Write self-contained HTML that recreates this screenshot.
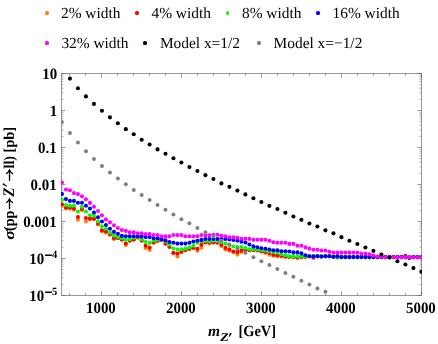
<!DOCTYPE html>
<html><head><meta charset="utf-8"><title>plot</title>
<style>
html,body{margin:0;padding:0;background:#fff;}
body{width:438px;height:344px;position:relative;overflow:hidden;font-family:"Liberation Serif",serif;color:#000;text-rendering:geometricPrecision;}
#wrap{position:absolute;left:0;top:0;width:438px;height:344px;will-change:transform;}
.lg{position:absolute;font-size:15.4px;line-height:18px;white-space:nowrap;}
.dot{position:absolute;width:3.6px;height:3.6px;border-radius:50%;}
</style></head><body><div id="wrap">
<svg width="438" height="344" viewBox="0 0 438 344" style="position:absolute;left:0;top:0">
<defs><clipPath id="cp"><rect x="61.0" y="73.0" width="361.0" height="223.0"/></clipPath></defs>
<rect x="61.5" y="73.5" width="360.0" height="222.0" fill="none" stroke="#5a5a5a" stroke-width="0.62"/>
<line x1="69.50" y1="295.50" x2="69.50" y2="293.30" stroke="#5a5a5a" stroke-width="0.62"/><line x1="69.50" y1="73.50" x2="69.50" y2="75.70" stroke="#5a5a5a" stroke-width="0.62"/><line x1="85.50" y1="295.50" x2="85.50" y2="293.30" stroke="#5a5a5a" stroke-width="0.62"/><line x1="85.50" y1="73.50" x2="85.50" y2="75.70" stroke="#5a5a5a" stroke-width="0.62"/><line x1="101.50" y1="295.50" x2="101.50" y2="291.50" stroke="#5a5a5a" stroke-width="0.62"/><line x1="101.50" y1="73.50" x2="101.50" y2="77.50" stroke="#5a5a5a" stroke-width="0.62"/><line x1="117.50" y1="295.50" x2="117.50" y2="293.30" stroke="#5a5a5a" stroke-width="0.62"/><line x1="117.50" y1="73.50" x2="117.50" y2="75.70" stroke="#5a5a5a" stroke-width="0.62"/><line x1="133.50" y1="295.50" x2="133.50" y2="293.30" stroke="#5a5a5a" stroke-width="0.62"/><line x1="133.50" y1="73.50" x2="133.50" y2="75.70" stroke="#5a5a5a" stroke-width="0.62"/><line x1="149.50" y1="295.50" x2="149.50" y2="293.30" stroke="#5a5a5a" stroke-width="0.62"/><line x1="149.50" y1="73.50" x2="149.50" y2="75.70" stroke="#5a5a5a" stroke-width="0.62"/><line x1="165.50" y1="295.50" x2="165.50" y2="293.30" stroke="#5a5a5a" stroke-width="0.62"/><line x1="165.50" y1="73.50" x2="165.50" y2="75.70" stroke="#5a5a5a" stroke-width="0.62"/><line x1="181.50" y1="295.50" x2="181.50" y2="291.50" stroke="#5a5a5a" stroke-width="0.62"/><line x1="181.50" y1="73.50" x2="181.50" y2="77.50" stroke="#5a5a5a" stroke-width="0.62"/><line x1="197.50" y1="295.50" x2="197.50" y2="293.30" stroke="#5a5a5a" stroke-width="0.62"/><line x1="197.50" y1="73.50" x2="197.50" y2="75.70" stroke="#5a5a5a" stroke-width="0.62"/><line x1="213.50" y1="295.50" x2="213.50" y2="293.30" stroke="#5a5a5a" stroke-width="0.62"/><line x1="213.50" y1="73.50" x2="213.50" y2="75.70" stroke="#5a5a5a" stroke-width="0.62"/><line x1="229.50" y1="295.50" x2="229.50" y2="293.30" stroke="#5a5a5a" stroke-width="0.62"/><line x1="229.50" y1="73.50" x2="229.50" y2="75.70" stroke="#5a5a5a" stroke-width="0.62"/><line x1="245.50" y1="295.50" x2="245.50" y2="293.30" stroke="#5a5a5a" stroke-width="0.62"/><line x1="245.50" y1="73.50" x2="245.50" y2="75.70" stroke="#5a5a5a" stroke-width="0.62"/><line x1="261.50" y1="295.50" x2="261.50" y2="291.50" stroke="#5a5a5a" stroke-width="0.62"/><line x1="261.50" y1="73.50" x2="261.50" y2="77.50" stroke="#5a5a5a" stroke-width="0.62"/><line x1="277.50" y1="295.50" x2="277.50" y2="293.30" stroke="#5a5a5a" stroke-width="0.62"/><line x1="277.50" y1="73.50" x2="277.50" y2="75.70" stroke="#5a5a5a" stroke-width="0.62"/><line x1="293.50" y1="295.50" x2="293.50" y2="293.30" stroke="#5a5a5a" stroke-width="0.62"/><line x1="293.50" y1="73.50" x2="293.50" y2="75.70" stroke="#5a5a5a" stroke-width="0.62"/><line x1="309.50" y1="295.50" x2="309.50" y2="293.30" stroke="#5a5a5a" stroke-width="0.62"/><line x1="309.50" y1="73.50" x2="309.50" y2="75.70" stroke="#5a5a5a" stroke-width="0.62"/><line x1="325.50" y1="295.50" x2="325.50" y2="293.30" stroke="#5a5a5a" stroke-width="0.62"/><line x1="325.50" y1="73.50" x2="325.50" y2="75.70" stroke="#5a5a5a" stroke-width="0.62"/><line x1="341.50" y1="295.50" x2="341.50" y2="291.50" stroke="#5a5a5a" stroke-width="0.62"/><line x1="341.50" y1="73.50" x2="341.50" y2="77.50" stroke="#5a5a5a" stroke-width="0.62"/><line x1="357.50" y1="295.50" x2="357.50" y2="293.30" stroke="#5a5a5a" stroke-width="0.62"/><line x1="357.50" y1="73.50" x2="357.50" y2="75.70" stroke="#5a5a5a" stroke-width="0.62"/><line x1="373.50" y1="295.50" x2="373.50" y2="293.30" stroke="#5a5a5a" stroke-width="0.62"/><line x1="373.50" y1="73.50" x2="373.50" y2="75.70" stroke="#5a5a5a" stroke-width="0.62"/><line x1="389.50" y1="295.50" x2="389.50" y2="293.30" stroke="#5a5a5a" stroke-width="0.62"/><line x1="389.50" y1="73.50" x2="389.50" y2="75.70" stroke="#5a5a5a" stroke-width="0.62"/><line x1="405.50" y1="295.50" x2="405.50" y2="293.30" stroke="#5a5a5a" stroke-width="0.62"/><line x1="405.50" y1="73.50" x2="405.50" y2="75.70" stroke="#5a5a5a" stroke-width="0.62"/><line x1="421.50" y1="295.50" x2="421.50" y2="291.50" stroke="#5a5a5a" stroke-width="0.62"/><line x1="421.50" y1="73.50" x2="421.50" y2="77.50" stroke="#5a5a5a" stroke-width="0.62"/><line x1="61.50" y1="73.50" x2="65.50" y2="73.50" stroke="#5a5a5a" stroke-width="0.62"/><line x1="421.50" y1="73.50" x2="417.50" y2="73.50" stroke="#5a5a5a" stroke-width="0.62"/><line x1="61.50" y1="99.36" x2="63.40" y2="99.36" stroke="#5a5a5a" stroke-width="0.5"/><line x1="421.50" y1="99.36" x2="419.60" y2="99.36" stroke="#5a5a5a" stroke-width="0.5"/><line x1="61.50" y1="92.85" x2="63.40" y2="92.85" stroke="#5a5a5a" stroke-width="0.5"/><line x1="421.50" y1="92.85" x2="419.60" y2="92.85" stroke="#5a5a5a" stroke-width="0.5"/><line x1="61.50" y1="88.22" x2="63.40" y2="88.22" stroke="#5a5a5a" stroke-width="0.5"/><line x1="421.50" y1="88.22" x2="419.60" y2="88.22" stroke="#5a5a5a" stroke-width="0.5"/><line x1="61.50" y1="84.64" x2="63.40" y2="84.64" stroke="#5a5a5a" stroke-width="0.5"/><line x1="421.50" y1="84.64" x2="419.60" y2="84.64" stroke="#5a5a5a" stroke-width="0.5"/><line x1="61.50" y1="81.71" x2="63.40" y2="81.71" stroke="#5a5a5a" stroke-width="0.5"/><line x1="421.50" y1="81.71" x2="419.60" y2="81.71" stroke="#5a5a5a" stroke-width="0.5"/><line x1="61.50" y1="79.23" x2="63.40" y2="79.23" stroke="#5a5a5a" stroke-width="0.5"/><line x1="421.50" y1="79.23" x2="419.60" y2="79.23" stroke="#5a5a5a" stroke-width="0.5"/><line x1="61.50" y1="77.09" x2="63.40" y2="77.09" stroke="#5a5a5a" stroke-width="0.5"/><line x1="421.50" y1="77.09" x2="419.60" y2="77.09" stroke="#5a5a5a" stroke-width="0.5"/><line x1="61.50" y1="75.19" x2="63.40" y2="75.19" stroke="#5a5a5a" stroke-width="0.5"/><line x1="421.50" y1="75.19" x2="419.60" y2="75.19" stroke="#5a5a5a" stroke-width="0.5"/><line x1="61.50" y1="110.50" x2="65.50" y2="110.50" stroke="#5a5a5a" stroke-width="0.62"/><line x1="421.50" y1="110.50" x2="417.50" y2="110.50" stroke="#5a5a5a" stroke-width="0.62"/><line x1="61.50" y1="136.36" x2="63.40" y2="136.36" stroke="#5a5a5a" stroke-width="0.5"/><line x1="421.50" y1="136.36" x2="419.60" y2="136.36" stroke="#5a5a5a" stroke-width="0.5"/><line x1="61.50" y1="129.85" x2="63.40" y2="129.85" stroke="#5a5a5a" stroke-width="0.5"/><line x1="421.50" y1="129.85" x2="419.60" y2="129.85" stroke="#5a5a5a" stroke-width="0.5"/><line x1="61.50" y1="125.22" x2="63.40" y2="125.22" stroke="#5a5a5a" stroke-width="0.5"/><line x1="421.50" y1="125.22" x2="419.60" y2="125.22" stroke="#5a5a5a" stroke-width="0.5"/><line x1="61.50" y1="121.64" x2="63.40" y2="121.64" stroke="#5a5a5a" stroke-width="0.5"/><line x1="421.50" y1="121.64" x2="419.60" y2="121.64" stroke="#5a5a5a" stroke-width="0.5"/><line x1="61.50" y1="118.71" x2="63.40" y2="118.71" stroke="#5a5a5a" stroke-width="0.5"/><line x1="421.50" y1="118.71" x2="419.60" y2="118.71" stroke="#5a5a5a" stroke-width="0.5"/><line x1="61.50" y1="116.23" x2="63.40" y2="116.23" stroke="#5a5a5a" stroke-width="0.5"/><line x1="421.50" y1="116.23" x2="419.60" y2="116.23" stroke="#5a5a5a" stroke-width="0.5"/><line x1="61.50" y1="114.09" x2="63.40" y2="114.09" stroke="#5a5a5a" stroke-width="0.5"/><line x1="421.50" y1="114.09" x2="419.60" y2="114.09" stroke="#5a5a5a" stroke-width="0.5"/><line x1="61.50" y1="112.19" x2="63.40" y2="112.19" stroke="#5a5a5a" stroke-width="0.5"/><line x1="421.50" y1="112.19" x2="419.60" y2="112.19" stroke="#5a5a5a" stroke-width="0.5"/><line x1="61.50" y1="147.50" x2="65.50" y2="147.50" stroke="#5a5a5a" stroke-width="0.62"/><line x1="421.50" y1="147.50" x2="417.50" y2="147.50" stroke="#5a5a5a" stroke-width="0.62"/><line x1="61.50" y1="173.36" x2="63.40" y2="173.36" stroke="#5a5a5a" stroke-width="0.5"/><line x1="421.50" y1="173.36" x2="419.60" y2="173.36" stroke="#5a5a5a" stroke-width="0.5"/><line x1="61.50" y1="166.85" x2="63.40" y2="166.85" stroke="#5a5a5a" stroke-width="0.5"/><line x1="421.50" y1="166.85" x2="419.60" y2="166.85" stroke="#5a5a5a" stroke-width="0.5"/><line x1="61.50" y1="162.22" x2="63.40" y2="162.22" stroke="#5a5a5a" stroke-width="0.5"/><line x1="421.50" y1="162.22" x2="419.60" y2="162.22" stroke="#5a5a5a" stroke-width="0.5"/><line x1="61.50" y1="158.64" x2="63.40" y2="158.64" stroke="#5a5a5a" stroke-width="0.5"/><line x1="421.50" y1="158.64" x2="419.60" y2="158.64" stroke="#5a5a5a" stroke-width="0.5"/><line x1="61.50" y1="155.71" x2="63.40" y2="155.71" stroke="#5a5a5a" stroke-width="0.5"/><line x1="421.50" y1="155.71" x2="419.60" y2="155.71" stroke="#5a5a5a" stroke-width="0.5"/><line x1="61.50" y1="153.23" x2="63.40" y2="153.23" stroke="#5a5a5a" stroke-width="0.5"/><line x1="421.50" y1="153.23" x2="419.60" y2="153.23" stroke="#5a5a5a" stroke-width="0.5"/><line x1="61.50" y1="151.09" x2="63.40" y2="151.09" stroke="#5a5a5a" stroke-width="0.5"/><line x1="421.50" y1="151.09" x2="419.60" y2="151.09" stroke="#5a5a5a" stroke-width="0.5"/><line x1="61.50" y1="149.19" x2="63.40" y2="149.19" stroke="#5a5a5a" stroke-width="0.5"/><line x1="421.50" y1="149.19" x2="419.60" y2="149.19" stroke="#5a5a5a" stroke-width="0.5"/><line x1="61.50" y1="184.50" x2="65.50" y2="184.50" stroke="#5a5a5a" stroke-width="0.62"/><line x1="421.50" y1="184.50" x2="417.50" y2="184.50" stroke="#5a5a5a" stroke-width="0.62"/><line x1="61.50" y1="210.36" x2="63.40" y2="210.36" stroke="#5a5a5a" stroke-width="0.5"/><line x1="421.50" y1="210.36" x2="419.60" y2="210.36" stroke="#5a5a5a" stroke-width="0.5"/><line x1="61.50" y1="203.85" x2="63.40" y2="203.85" stroke="#5a5a5a" stroke-width="0.5"/><line x1="421.50" y1="203.85" x2="419.60" y2="203.85" stroke="#5a5a5a" stroke-width="0.5"/><line x1="61.50" y1="199.22" x2="63.40" y2="199.22" stroke="#5a5a5a" stroke-width="0.5"/><line x1="421.50" y1="199.22" x2="419.60" y2="199.22" stroke="#5a5a5a" stroke-width="0.5"/><line x1="61.50" y1="195.64" x2="63.40" y2="195.64" stroke="#5a5a5a" stroke-width="0.5"/><line x1="421.50" y1="195.64" x2="419.60" y2="195.64" stroke="#5a5a5a" stroke-width="0.5"/><line x1="61.50" y1="192.71" x2="63.40" y2="192.71" stroke="#5a5a5a" stroke-width="0.5"/><line x1="421.50" y1="192.71" x2="419.60" y2="192.71" stroke="#5a5a5a" stroke-width="0.5"/><line x1="61.50" y1="190.23" x2="63.40" y2="190.23" stroke="#5a5a5a" stroke-width="0.5"/><line x1="421.50" y1="190.23" x2="419.60" y2="190.23" stroke="#5a5a5a" stroke-width="0.5"/><line x1="61.50" y1="188.09" x2="63.40" y2="188.09" stroke="#5a5a5a" stroke-width="0.5"/><line x1="421.50" y1="188.09" x2="419.60" y2="188.09" stroke="#5a5a5a" stroke-width="0.5"/><line x1="61.50" y1="186.19" x2="63.40" y2="186.19" stroke="#5a5a5a" stroke-width="0.5"/><line x1="421.50" y1="186.19" x2="419.60" y2="186.19" stroke="#5a5a5a" stroke-width="0.5"/><line x1="61.50" y1="221.50" x2="65.50" y2="221.50" stroke="#5a5a5a" stroke-width="0.62"/><line x1="421.50" y1="221.50" x2="417.50" y2="221.50" stroke="#5a5a5a" stroke-width="0.62"/><line x1="61.50" y1="247.36" x2="63.40" y2="247.36" stroke="#5a5a5a" stroke-width="0.5"/><line x1="421.50" y1="247.36" x2="419.60" y2="247.36" stroke="#5a5a5a" stroke-width="0.5"/><line x1="61.50" y1="240.85" x2="63.40" y2="240.85" stroke="#5a5a5a" stroke-width="0.5"/><line x1="421.50" y1="240.85" x2="419.60" y2="240.85" stroke="#5a5a5a" stroke-width="0.5"/><line x1="61.50" y1="236.22" x2="63.40" y2="236.22" stroke="#5a5a5a" stroke-width="0.5"/><line x1="421.50" y1="236.22" x2="419.60" y2="236.22" stroke="#5a5a5a" stroke-width="0.5"/><line x1="61.50" y1="232.64" x2="63.40" y2="232.64" stroke="#5a5a5a" stroke-width="0.5"/><line x1="421.50" y1="232.64" x2="419.60" y2="232.64" stroke="#5a5a5a" stroke-width="0.5"/><line x1="61.50" y1="229.71" x2="63.40" y2="229.71" stroke="#5a5a5a" stroke-width="0.5"/><line x1="421.50" y1="229.71" x2="419.60" y2="229.71" stroke="#5a5a5a" stroke-width="0.5"/><line x1="61.50" y1="227.23" x2="63.40" y2="227.23" stroke="#5a5a5a" stroke-width="0.5"/><line x1="421.50" y1="227.23" x2="419.60" y2="227.23" stroke="#5a5a5a" stroke-width="0.5"/><line x1="61.50" y1="225.09" x2="63.40" y2="225.09" stroke="#5a5a5a" stroke-width="0.5"/><line x1="421.50" y1="225.09" x2="419.60" y2="225.09" stroke="#5a5a5a" stroke-width="0.5"/><line x1="61.50" y1="223.19" x2="63.40" y2="223.19" stroke="#5a5a5a" stroke-width="0.5"/><line x1="421.50" y1="223.19" x2="419.60" y2="223.19" stroke="#5a5a5a" stroke-width="0.5"/><line x1="61.50" y1="258.50" x2="65.50" y2="258.50" stroke="#5a5a5a" stroke-width="0.62"/><line x1="421.50" y1="258.50" x2="417.50" y2="258.50" stroke="#5a5a5a" stroke-width="0.62"/><line x1="61.50" y1="284.36" x2="63.40" y2="284.36" stroke="#5a5a5a" stroke-width="0.5"/><line x1="421.50" y1="284.36" x2="419.60" y2="284.36" stroke="#5a5a5a" stroke-width="0.5"/><line x1="61.50" y1="277.85" x2="63.40" y2="277.85" stroke="#5a5a5a" stroke-width="0.5"/><line x1="421.50" y1="277.85" x2="419.60" y2="277.85" stroke="#5a5a5a" stroke-width="0.5"/><line x1="61.50" y1="273.22" x2="63.40" y2="273.22" stroke="#5a5a5a" stroke-width="0.5"/><line x1="421.50" y1="273.22" x2="419.60" y2="273.22" stroke="#5a5a5a" stroke-width="0.5"/><line x1="61.50" y1="269.64" x2="63.40" y2="269.64" stroke="#5a5a5a" stroke-width="0.5"/><line x1="421.50" y1="269.64" x2="419.60" y2="269.64" stroke="#5a5a5a" stroke-width="0.5"/><line x1="61.50" y1="266.71" x2="63.40" y2="266.71" stroke="#5a5a5a" stroke-width="0.5"/><line x1="421.50" y1="266.71" x2="419.60" y2="266.71" stroke="#5a5a5a" stroke-width="0.5"/><line x1="61.50" y1="264.23" x2="63.40" y2="264.23" stroke="#5a5a5a" stroke-width="0.5"/><line x1="421.50" y1="264.23" x2="419.60" y2="264.23" stroke="#5a5a5a" stroke-width="0.5"/><line x1="61.50" y1="262.09" x2="63.40" y2="262.09" stroke="#5a5a5a" stroke-width="0.5"/><line x1="421.50" y1="262.09" x2="419.60" y2="262.09" stroke="#5a5a5a" stroke-width="0.5"/><line x1="61.50" y1="260.19" x2="63.40" y2="260.19" stroke="#5a5a5a" stroke-width="0.5"/><line x1="421.50" y1="260.19" x2="419.60" y2="260.19" stroke="#5a5a5a" stroke-width="0.5"/><line x1="61.50" y1="295.50" x2="65.50" y2="295.50" stroke="#5a5a5a" stroke-width="0.62"/><line x1="421.50" y1="295.50" x2="417.50" y2="295.50" stroke="#5a5a5a" stroke-width="0.62"/>
<g clip-path="url(#cp)"><g fill="#ff8000"><circle cx="61.95" cy="205.90" r="2.05"/><circle cx="65.95" cy="208.50" r="2.05"/><circle cx="69.95" cy="208.50" r="2.05"/><circle cx="73.95" cy="209.80" r="2.05"/><circle cx="77.95" cy="219.80" r="2.05"/><circle cx="81.95" cy="210.20" r="2.05"/><circle cx="85.95" cy="221.50" r="2.05"/><circle cx="89.95" cy="219.20" r="2.05"/><circle cx="93.95" cy="219.20" r="2.05"/><circle cx="97.95" cy="224.40" r="2.05"/><circle cx="101.95" cy="231.40" r="2.05"/><circle cx="105.95" cy="232.60" r="2.05"/><circle cx="109.95" cy="234.80" r="2.05"/><circle cx="113.92" cy="239.10" r="2.05"/><circle cx="117.89" cy="238.30" r="2.05"/><circle cx="121.85" cy="239.80" r="2.05"/><circle cx="125.82" cy="245.00" r="2.05"/><circle cx="129.78" cy="240.80" r="2.05"/><circle cx="133.75" cy="239.70" r="2.05"/><circle cx="137.72" cy="237.70" r="2.05"/><circle cx="141.68" cy="240.80" r="2.05"/><circle cx="145.65" cy="248.00" r="2.05"/><circle cx="149.62" cy="249.90" r="2.05"/><circle cx="153.58" cy="242.90" r="2.05"/><circle cx="157.55" cy="241.20" r="2.05"/><circle cx="161.51" cy="240.30" r="2.05"/><circle cx="165.48" cy="244.10" r="2.05"/><circle cx="169.45" cy="247.00" r="2.05"/><circle cx="173.41" cy="253.40" r="2.05"/><circle cx="177.40" cy="256.40" r="2.05"/><circle cx="181.40" cy="252.30" r="2.05"/><circle cx="185.40" cy="250.30" r="2.05"/><circle cx="189.40" cy="249.20" r="2.05"/><circle cx="193.40" cy="248.00" r="2.05"/><circle cx="197.40" cy="250.80" r="2.05"/><circle cx="201.40" cy="247.70" r="2.05"/><circle cx="205.40" cy="242.80" r="2.05"/><circle cx="209.40" cy="243.40" r="2.05"/><circle cx="213.40" cy="242.70" r="2.05"/><circle cx="217.40" cy="242.70" r="2.05"/><circle cx="221.40" cy="245.90" r="2.05"/><circle cx="225.40" cy="249.40" r="2.05"/><circle cx="229.40" cy="250.80" r="2.05"/><circle cx="233.40" cy="252.00" r="2.05"/><circle cx="237.40" cy="254.60" r="2.05"/><circle cx="241.40" cy="252.00" r="2.05"/><circle cx="245.40" cy="250.00" r="2.05"/><circle cx="249.40" cy="250.30" r="2.05"/><circle cx="253.40" cy="250.30" r="2.05"/><circle cx="257.40" cy="250.50" r="2.05"/><circle cx="261.40" cy="251.50" r="2.05"/><circle cx="265.40" cy="252.70" r="2.05"/><circle cx="269.40" cy="254.70" r="2.05"/><circle cx="273.40" cy="255.80" r="2.05"/><circle cx="277.40" cy="256.20" r="2.05"/><circle cx="281.40" cy="256.50" r="2.05"/><circle cx="285.40" cy="257.00" r="2.05"/><circle cx="289.40" cy="257.20" r="2.05"/><circle cx="293.40" cy="257.20" r="2.05"/><circle cx="297.40" cy="257.20" r="2.05"/><circle cx="301.40" cy="257.20" r="2.05"/><circle cx="305.40" cy="257.20" r="2.05"/><circle cx="309.40" cy="256.20" r="2.05"/><circle cx="313.40" cy="256.20" r="2.05"/><circle cx="317.40" cy="256.20" r="2.05"/><circle cx="321.40" cy="256.50" r="2.05"/><circle cx="325.40" cy="256.20" r="2.05"/><circle cx="329.40" cy="256.20" r="2.05"/><circle cx="333.40" cy="256.70" r="2.05"/><circle cx="337.40" cy="256.40" r="2.05"/><circle cx="341.40" cy="257.10" r="2.05"/><circle cx="345.40" cy="257.10" r="2.05"/><circle cx="349.40" cy="257.10" r="2.05"/><circle cx="353.40" cy="257.10" r="2.05"/><circle cx="357.40" cy="257.10" r="2.05"/><circle cx="361.40" cy="257.10" r="2.05"/><circle cx="365.40" cy="257.10" r="2.05"/><circle cx="369.40" cy="257.10" r="2.05"/><circle cx="373.40" cy="257.10" r="2.05"/><circle cx="377.40" cy="257.10" r="2.05"/><circle cx="381.40" cy="257.10" r="2.05"/><circle cx="385.40" cy="257.10" r="2.05"/><circle cx="389.40" cy="257.10" r="2.05"/><circle cx="393.40" cy="257.10" r="2.05"/><circle cx="397.40" cy="257.10" r="2.05"/><circle cx="401.40" cy="257.10" r="2.05"/><circle cx="405.40" cy="257.10" r="2.05"/><circle cx="409.40" cy="257.10" r="2.05"/><circle cx="413.40" cy="257.10" r="2.05"/><circle cx="417.40" cy="257.10" r="2.05"/><circle cx="421.40" cy="257.10" r="2.05"/></g><g fill="#ff0000"><circle cx="61.95" cy="204.20" r="2.05"/><circle cx="65.95" cy="207.50" r="2.05"/><circle cx="69.95" cy="207.60" r="2.05"/><circle cx="73.95" cy="208.50" r="2.05"/><circle cx="77.95" cy="217.00" r="2.05"/><circle cx="81.95" cy="208.80" r="2.05"/><circle cx="85.95" cy="218.00" r="2.05"/><circle cx="89.95" cy="218.40" r="2.05"/><circle cx="93.95" cy="218.60" r="2.05"/><circle cx="97.95" cy="223.50" r="2.05"/><circle cx="101.95" cy="230.20" r="2.05"/><circle cx="105.95" cy="231.40" r="2.05"/><circle cx="109.95" cy="234.20" r="2.05"/><circle cx="113.92" cy="238.00" r="2.05"/><circle cx="117.89" cy="237.90" r="2.05"/><circle cx="121.85" cy="239.40" r="2.05"/><circle cx="125.82" cy="243.50" r="2.05"/><circle cx="129.78" cy="240.60" r="2.05"/><circle cx="133.75" cy="239.40" r="2.05"/><circle cx="137.72" cy="237.20" r="2.05"/><circle cx="141.68" cy="240.40" r="2.05"/><circle cx="145.65" cy="245.80" r="2.05"/><circle cx="149.62" cy="247.60" r="2.05"/><circle cx="153.58" cy="242.30" r="2.05"/><circle cx="157.55" cy="240.80" r="2.05"/><circle cx="161.51" cy="240.00" r="2.05"/><circle cx="165.48" cy="243.50" r="2.05"/><circle cx="169.45" cy="246.70" r="2.05"/><circle cx="173.41" cy="252.80" r="2.05"/><circle cx="177.40" cy="253.50" r="2.05"/><circle cx="181.40" cy="251.70" r="2.05"/><circle cx="185.40" cy="250.00" r="2.05"/><circle cx="189.40" cy="248.60" r="2.05"/><circle cx="193.40" cy="247.70" r="2.05"/><circle cx="197.40" cy="248.80" r="2.05"/><circle cx="201.40" cy="244.80" r="2.05"/><circle cx="205.40" cy="242.30" r="2.05"/><circle cx="209.40" cy="242.40" r="2.05"/><circle cx="213.40" cy="242.20" r="2.05"/><circle cx="217.40" cy="242.40" r="2.05"/><circle cx="221.40" cy="244.80" r="2.05"/><circle cx="225.40" cy="247.70" r="2.05"/><circle cx="229.40" cy="249.40" r="2.05"/><circle cx="233.40" cy="251.50" r="2.05"/><circle cx="237.40" cy="251.90" r="2.05"/><circle cx="241.40" cy="250.60" r="2.05"/><circle cx="245.40" cy="249.50" r="2.05"/><circle cx="249.40" cy="250.00" r="2.05"/><circle cx="253.40" cy="250.00" r="2.05"/><circle cx="257.40" cy="250.20" r="2.05"/><circle cx="261.40" cy="251.30" r="2.05"/><circle cx="265.40" cy="252.20" r="2.05"/><circle cx="269.40" cy="253.00" r="2.05"/><circle cx="273.40" cy="254.70" r="2.05"/><circle cx="277.40" cy="255.30" r="2.05"/><circle cx="281.40" cy="255.70" r="2.05"/><circle cx="285.40" cy="256.50" r="2.05"/><circle cx="289.40" cy="256.80" r="2.05"/><circle cx="293.40" cy="256.80" r="2.05"/><circle cx="297.40" cy="257.70" r="2.05"/><circle cx="301.40" cy="257.00" r="2.05"/><circle cx="305.40" cy="257.10" r="2.05"/><circle cx="309.40" cy="256.20" r="2.05"/><circle cx="313.40" cy="257.80" r="2.05"/><circle cx="317.40" cy="256.20" r="2.05"/><circle cx="321.40" cy="256.50" r="2.05"/><circle cx="325.40" cy="256.20" r="2.05"/><circle cx="329.40" cy="256.20" r="2.05"/><circle cx="333.40" cy="256.70" r="2.05"/><circle cx="337.40" cy="256.40" r="2.05"/><circle cx="341.40" cy="257.10" r="2.05"/><circle cx="345.40" cy="257.10" r="2.05"/><circle cx="349.40" cy="257.10" r="2.05"/><circle cx="353.40" cy="257.10" r="2.05"/><circle cx="357.40" cy="257.10" r="2.05"/><circle cx="361.40" cy="257.10" r="2.05"/><circle cx="365.40" cy="257.10" r="2.05"/><circle cx="369.40" cy="257.10" r="2.05"/><circle cx="373.40" cy="257.10" r="2.05"/><circle cx="377.40" cy="257.10" r="2.05"/><circle cx="381.40" cy="257.10" r="2.05"/><circle cx="385.40" cy="257.10" r="2.05"/><circle cx="389.40" cy="257.10" r="2.05"/><circle cx="393.40" cy="257.10" r="2.05"/><circle cx="397.40" cy="257.10" r="2.05"/><circle cx="401.40" cy="257.10" r="2.05"/><circle cx="405.40" cy="255.80" r="2.05"/><circle cx="409.40" cy="257.10" r="2.05"/><circle cx="413.40" cy="257.10" r="2.05"/><circle cx="417.40" cy="257.10" r="2.05"/><circle cx="421.40" cy="257.10" r="2.05"/></g><g fill="#00ff00"><circle cx="61.95" cy="199.70" r="2.05"/><circle cx="65.95" cy="205.00" r="2.05"/><circle cx="69.95" cy="205.80" r="2.05"/><circle cx="73.95" cy="205.50" r="2.05"/><circle cx="77.95" cy="211.60" r="2.05"/><circle cx="81.95" cy="206.70" r="2.05"/><circle cx="85.95" cy="211.50" r="2.05"/><circle cx="89.95" cy="215.20" r="2.05"/><circle cx="93.95" cy="215.80" r="2.05"/><circle cx="97.95" cy="221.50" r="2.05"/><circle cx="101.95" cy="226.20" r="2.05"/><circle cx="105.95" cy="228.80" r="2.05"/><circle cx="109.95" cy="232.80" r="2.05"/><circle cx="113.92" cy="235.40" r="2.05"/><circle cx="117.89" cy="236.90" r="2.05"/><circle cx="121.85" cy="238.30" r="2.05"/><circle cx="125.82" cy="239.70" r="2.05"/><circle cx="129.78" cy="239.20" r="2.05"/><circle cx="133.75" cy="237.70" r="2.05"/><circle cx="137.72" cy="236.80" r="2.05"/><circle cx="141.68" cy="239.30" r="2.05"/><circle cx="145.65" cy="241.90" r="2.05"/><circle cx="149.62" cy="242.90" r="2.05"/><circle cx="153.58" cy="240.60" r="2.05"/><circle cx="157.55" cy="239.70" r="2.05"/><circle cx="161.51" cy="239.40" r="2.05"/><circle cx="165.48" cy="241.80" r="2.05"/><circle cx="169.45" cy="244.70" r="2.05"/><circle cx="173.41" cy="248.50" r="2.05"/><circle cx="177.40" cy="249.50" r="2.05"/><circle cx="181.40" cy="249.20" r="2.05"/><circle cx="185.40" cy="248.60" r="2.05"/><circle cx="189.40" cy="247.40" r="2.05"/><circle cx="193.40" cy="245.70" r="2.05"/><circle cx="197.40" cy="242.80" r="2.05"/><circle cx="201.40" cy="241.30" r="2.05"/><circle cx="205.40" cy="241.00" r="2.05"/><circle cx="209.40" cy="241.20" r="2.05"/><circle cx="213.40" cy="240.70" r="2.05"/><circle cx="217.40" cy="241.00" r="2.05"/><circle cx="221.40" cy="241.90" r="2.05"/><circle cx="225.40" cy="243.60" r="2.05"/><circle cx="229.40" cy="244.80" r="2.05"/><circle cx="233.40" cy="246.50" r="2.05"/><circle cx="237.40" cy="247.10" r="2.05"/><circle cx="241.40" cy="247.10" r="2.05"/><circle cx="245.40" cy="248.00" r="2.05"/><circle cx="249.40" cy="249.20" r="2.05"/><circle cx="253.40" cy="249.20" r="2.05"/><circle cx="257.40" cy="249.50" r="2.05"/><circle cx="261.40" cy="250.10" r="2.05"/><circle cx="265.40" cy="250.70" r="2.05"/><circle cx="269.40" cy="251.30" r="2.05"/><circle cx="273.40" cy="252.00" r="2.05"/><circle cx="277.40" cy="252.40" r="2.05"/><circle cx="281.40" cy="254.20" r="2.05"/><circle cx="285.40" cy="255.30" r="2.05"/><circle cx="289.40" cy="256.20" r="2.05"/><circle cx="293.40" cy="256.20" r="2.05"/><circle cx="297.40" cy="256.20" r="2.05"/><circle cx="301.40" cy="256.20" r="2.05"/><circle cx="305.40" cy="256.70" r="2.05"/><circle cx="309.40" cy="256.20" r="2.05"/><circle cx="313.40" cy="256.20" r="2.05"/><circle cx="317.40" cy="256.20" r="2.05"/><circle cx="321.40" cy="256.00" r="2.05"/><circle cx="325.40" cy="256.20" r="2.05"/><circle cx="329.40" cy="256.20" r="2.05"/><circle cx="333.40" cy="256.70" r="2.05"/><circle cx="337.40" cy="257.80" r="2.05"/><circle cx="341.40" cy="257.10" r="2.05"/><circle cx="345.40" cy="257.10" r="2.05"/><circle cx="349.40" cy="257.10" r="2.05"/><circle cx="353.40" cy="257.10" r="2.05"/><circle cx="357.40" cy="257.10" r="2.05"/><circle cx="361.40" cy="257.10" r="2.05"/><circle cx="365.40" cy="257.10" r="2.05"/><circle cx="369.40" cy="257.10" r="2.05"/><circle cx="373.40" cy="257.10" r="2.05"/><circle cx="377.40" cy="257.10" r="2.05"/><circle cx="381.40" cy="257.10" r="2.05"/><circle cx="385.40" cy="257.10" r="2.05"/><circle cx="389.40" cy="257.10" r="2.05"/><circle cx="393.40" cy="257.10" r="2.05"/><circle cx="397.40" cy="257.10" r="2.05"/><circle cx="401.40" cy="257.10" r="2.05"/><circle cx="405.40" cy="257.10" r="2.05"/><circle cx="409.40" cy="257.10" r="2.05"/><circle cx="413.40" cy="257.10" r="2.05"/><circle cx="417.40" cy="257.10" r="2.05"/><circle cx="421.40" cy="257.10" r="2.05"/></g><g fill="#0000ff"><circle cx="61.95" cy="194.00" r="2.05"/><circle cx="65.95" cy="199.10" r="2.05"/><circle cx="69.95" cy="200.90" r="2.05"/><circle cx="73.95" cy="200.90" r="2.05"/><circle cx="77.95" cy="202.70" r="2.05"/><circle cx="81.95" cy="202.70" r="2.05"/><circle cx="85.95" cy="205.70" r="2.05"/><circle cx="89.95" cy="208.60" r="2.05"/><circle cx="93.95" cy="212.50" r="2.05"/><circle cx="97.95" cy="217.20" r="2.05"/><circle cx="101.95" cy="221.50" r="2.05"/><circle cx="105.95" cy="225.00" r="2.05"/><circle cx="109.95" cy="228.70" r="2.05"/><circle cx="113.92" cy="231.90" r="2.05"/><circle cx="117.89" cy="233.80" r="2.05"/><circle cx="121.85" cy="235.90" r="2.05"/><circle cx="125.82" cy="236.20" r="2.05"/><circle cx="129.78" cy="236.20" r="2.05"/><circle cx="133.75" cy="236.20" r="2.05"/><circle cx="137.72" cy="236.20" r="2.05"/><circle cx="141.68" cy="236.40" r="2.05"/><circle cx="145.65" cy="237.10" r="2.05"/><circle cx="149.62" cy="237.10" r="2.05"/><circle cx="153.58" cy="238.30" r="2.05"/><circle cx="157.55" cy="238.30" r="2.05"/><circle cx="161.51" cy="239.20" r="2.05"/><circle cx="165.48" cy="240.40" r="2.05"/><circle cx="169.45" cy="242.00" r="2.05"/><circle cx="173.41" cy="242.80" r="2.05"/><circle cx="177.40" cy="243.60" r="2.05"/><circle cx="181.40" cy="243.60" r="2.05"/><circle cx="185.40" cy="243.60" r="2.05"/><circle cx="189.40" cy="242.80" r="2.05"/><circle cx="193.40" cy="241.60" r="2.05"/><circle cx="197.40" cy="240.70" r="2.05"/><circle cx="201.40" cy="239.90" r="2.05"/><circle cx="205.40" cy="239.00" r="2.05"/><circle cx="209.40" cy="239.00" r="2.05"/><circle cx="213.40" cy="239.00" r="2.05"/><circle cx="217.40" cy="239.00" r="2.05"/><circle cx="221.40" cy="239.00" r="2.05"/><circle cx="225.40" cy="239.00" r="2.05"/><circle cx="229.40" cy="239.50" r="2.05"/><circle cx="233.40" cy="239.90" r="2.05"/><circle cx="237.40" cy="240.60" r="2.05"/><circle cx="241.40" cy="241.70" r="2.05"/><circle cx="245.40" cy="242.50" r="2.05"/><circle cx="249.40" cy="244.50" r="2.05"/><circle cx="253.40" cy="246.40" r="2.05"/><circle cx="257.40" cy="247.20" r="2.05"/><circle cx="261.40" cy="248.30" r="2.05"/><circle cx="265.40" cy="248.70" r="2.05"/><circle cx="269.40" cy="249.50" r="2.05"/><circle cx="273.40" cy="250.30" r="2.05"/><circle cx="277.40" cy="250.30" r="2.05"/><circle cx="281.40" cy="251.30" r="2.05"/><circle cx="285.40" cy="251.30" r="2.05"/><circle cx="289.40" cy="251.50" r="2.05"/><circle cx="293.40" cy="252.40" r="2.05"/><circle cx="297.40" cy="252.40" r="2.05"/><circle cx="301.40" cy="253.40" r="2.05"/><circle cx="305.40" cy="255.30" r="2.05"/><circle cx="309.40" cy="256.20" r="2.05"/><circle cx="313.40" cy="256.20" r="2.05"/><circle cx="317.40" cy="256.20" r="2.05"/><circle cx="321.40" cy="256.50" r="2.05"/><circle cx="325.40" cy="256.20" r="2.05"/><circle cx="329.40" cy="256.20" r="2.05"/><circle cx="333.40" cy="256.70" r="2.05"/><circle cx="337.40" cy="256.40" r="2.05"/><circle cx="341.40" cy="257.10" r="2.05"/><circle cx="345.40" cy="257.10" r="2.05"/><circle cx="349.40" cy="257.10" r="2.05"/><circle cx="353.40" cy="257.10" r="2.05"/><circle cx="357.40" cy="257.10" r="2.05"/><circle cx="361.40" cy="257.10" r="2.05"/><circle cx="365.40" cy="257.10" r="2.05"/><circle cx="369.40" cy="257.10" r="2.05"/><circle cx="373.40" cy="257.10" r="2.05"/><circle cx="377.40" cy="257.10" r="2.05"/><circle cx="381.40" cy="257.10" r="2.05"/><circle cx="385.40" cy="257.10" r="2.05"/><circle cx="389.40" cy="257.10" r="2.05"/><circle cx="393.40" cy="257.10" r="2.05"/><circle cx="397.40" cy="257.10" r="2.05"/><circle cx="401.40" cy="257.10" r="2.05"/><circle cx="405.40" cy="257.10" r="2.05"/><circle cx="409.40" cy="257.90" r="2.05"/><circle cx="413.40" cy="257.10" r="2.05"/><circle cx="417.40" cy="257.10" r="2.05"/><circle cx="421.40" cy="257.10" r="2.05"/></g><g fill="#ff00ff"><circle cx="61.95" cy="182.60" r="2.05"/><circle cx="65.95" cy="189.50" r="2.05"/><circle cx="69.95" cy="190.30" r="2.05"/><circle cx="73.95" cy="193.10" r="2.05"/><circle cx="77.95" cy="194.10" r="2.05"/><circle cx="81.95" cy="196.20" r="2.05"/><circle cx="85.95" cy="199.20" r="2.05"/><circle cx="89.95" cy="202.90" r="2.05"/><circle cx="93.95" cy="206.70" r="2.05"/><circle cx="97.95" cy="211.00" r="2.05"/><circle cx="101.95" cy="215.30" r="2.05"/><circle cx="105.95" cy="219.40" r="2.05"/><circle cx="109.95" cy="222.30" r="2.05"/><circle cx="113.92" cy="225.20" r="2.05"/><circle cx="117.89" cy="228.00" r="2.05"/><circle cx="121.85" cy="230.10" r="2.05"/><circle cx="125.82" cy="230.90" r="2.05"/><circle cx="129.78" cy="232.40" r="2.05"/><circle cx="133.75" cy="232.40" r="2.05"/><circle cx="137.72" cy="233.20" r="2.05"/><circle cx="141.68" cy="233.20" r="2.05"/><circle cx="145.65" cy="234.00" r="2.05"/><circle cx="149.62" cy="234.10" r="2.05"/><circle cx="153.58" cy="235.00" r="2.05"/><circle cx="157.55" cy="235.00" r="2.05"/><circle cx="161.51" cy="236.20" r="2.05"/><circle cx="165.48" cy="236.40" r="2.05"/><circle cx="169.45" cy="236.40" r="2.05"/><circle cx="173.41" cy="235.00" r="2.05"/><circle cx="177.40" cy="235.10" r="2.05"/><circle cx="181.40" cy="235.10" r="2.05"/><circle cx="185.40" cy="236.20" r="2.05"/><circle cx="189.40" cy="236.20" r="2.05"/><circle cx="193.40" cy="236.20" r="2.05"/><circle cx="197.40" cy="236.20" r="2.05"/><circle cx="201.40" cy="235.10" r="2.05"/><circle cx="205.40" cy="235.40" r="2.05"/><circle cx="209.40" cy="235.20" r="2.05"/><circle cx="213.40" cy="234.70" r="2.05"/><circle cx="217.40" cy="234.70" r="2.05"/><circle cx="221.40" cy="235.90" r="2.05"/><circle cx="225.40" cy="236.20" r="2.05"/><circle cx="229.40" cy="237.20" r="2.05"/><circle cx="233.40" cy="237.40" r="2.05"/><circle cx="237.40" cy="237.70" r="2.05"/><circle cx="241.40" cy="238.80" r="2.05"/><circle cx="245.40" cy="238.70" r="2.05"/><circle cx="249.40" cy="238.90" r="2.05"/><circle cx="253.40" cy="239.80" r="2.05"/><circle cx="257.40" cy="239.80" r="2.05"/><circle cx="261.40" cy="239.80" r="2.05"/><circle cx="265.40" cy="239.80" r="2.05"/><circle cx="269.40" cy="240.70" r="2.05"/><circle cx="273.40" cy="242.20" r="2.05"/><circle cx="277.40" cy="242.80" r="2.05"/><circle cx="281.40" cy="242.80" r="2.05"/><circle cx="285.40" cy="242.80" r="2.05"/><circle cx="289.40" cy="243.90" r="2.05"/><circle cx="293.40" cy="243.90" r="2.05"/><circle cx="297.40" cy="245.70" r="2.05"/><circle cx="301.40" cy="245.80" r="2.05"/><circle cx="305.40" cy="247.40" r="2.05"/><circle cx="309.40" cy="248.60" r="2.05"/><circle cx="313.40" cy="249.70" r="2.05"/><circle cx="317.40" cy="249.70" r="2.05"/><circle cx="321.40" cy="250.50" r="2.05"/><circle cx="325.40" cy="250.50" r="2.05"/><circle cx="329.40" cy="251.70" r="2.05"/><circle cx="333.40" cy="252.60" r="2.05"/><circle cx="337.40" cy="252.60" r="2.05"/><circle cx="341.40" cy="252.60" r="2.05"/><circle cx="345.40" cy="252.60" r="2.05"/><circle cx="349.40" cy="252.60" r="2.05"/><circle cx="353.40" cy="252.60" r="2.05"/><circle cx="357.40" cy="252.60" r="2.05"/><circle cx="361.40" cy="253.60" r="2.05"/><circle cx="365.40" cy="253.60" r="2.05"/><circle cx="369.40" cy="254.40" r="2.05"/><circle cx="373.40" cy="255.50" r="2.05"/><circle cx="377.40" cy="256.50" r="2.05"/><circle cx="381.40" cy="256.70" r="2.05"/><circle cx="385.40" cy="257.30" r="2.05"/><circle cx="389.40" cy="257.30" r="2.05"/><circle cx="393.40" cy="257.30" r="2.05"/><circle cx="397.40" cy="257.30" r="2.05"/><circle cx="401.40" cy="257.30" r="2.05"/><circle cx="405.40" cy="257.30" r="2.05"/><circle cx="409.40" cy="257.30" r="2.05"/><circle cx="413.40" cy="257.30" r="2.05"/><circle cx="417.40" cy="257.30" r="2.05"/><circle cx="421.40" cy="257.30" r="2.05"/></g><g fill="#000000"><circle cx="69.95" cy="78.61" r="2.05"/><circle cx="77.95" cy="88.21" r="2.05"/><circle cx="85.95" cy="96.38" r="2.05"/><circle cx="93.95" cy="103.88" r="2.05"/><circle cx="101.95" cy="110.77" r="2.05"/><circle cx="109.95" cy="117.33" r="2.05"/><circle cx="117.89" cy="123.23" r="2.05"/><circle cx="125.82" cy="129.13" r="2.05"/><circle cx="133.75" cy="134.28" r="2.05"/><circle cx="141.68" cy="139.77" r="2.05"/><circle cx="149.62" cy="144.55" r="2.05"/><circle cx="157.55" cy="149.39" r="2.05"/><circle cx="165.48" cy="153.70" r="2.05"/><circle cx="173.41" cy="158.29" r="2.05"/><circle cx="181.40" cy="162.52" r="2.05"/><circle cx="189.40" cy="167.09" r="2.05"/><circle cx="197.40" cy="171.02" r="2.05"/><circle cx="205.40" cy="175.15" r="2.05"/><circle cx="213.40" cy="178.99" r="2.05"/><circle cx="221.40" cy="183.40" r="2.05"/><circle cx="229.40" cy="186.83" r="2.05"/><circle cx="237.40" cy="190.58" r="2.05"/><circle cx="245.40" cy="194.40" r="2.05"/><circle cx="253.40" cy="198.31" r="2.05"/><circle cx="261.40" cy="202.04" r="2.05"/><circle cx="269.40" cy="205.86" r="2.05"/><circle cx="277.40" cy="209.01" r="2.05"/><circle cx="285.40" cy="212.80" r="2.05"/><circle cx="293.40" cy="216.47" r="2.05"/><circle cx="301.40" cy="219.84" r="2.05"/><circle cx="309.40" cy="223.49" r="2.05"/><circle cx="317.40" cy="226.54" r="2.05"/><circle cx="325.40" cy="230.33" r="2.05"/><circle cx="333.40" cy="233.37" r="2.05"/><circle cx="341.40" cy="237.15" r="2.05"/><circle cx="349.40" cy="240.72" r="2.05"/><circle cx="357.40" cy="244.04" r="2.05"/><circle cx="365.40" cy="247.56" r="2.05"/><circle cx="373.40" cy="250.83" r="2.05"/><circle cx="381.40" cy="254.44" r="2.05"/><circle cx="389.40" cy="257.55" r="2.05"/><circle cx="397.40" cy="261.31" r="2.05"/><circle cx="405.40" cy="264.52" r="2.05"/><circle cx="413.40" cy="268.09" r="2.05"/><circle cx="421.40" cy="271.75" r="2.05"/></g><g fill="#808080"><circle cx="61.95" cy="122.02" r="2.0"/><circle cx="69.95" cy="132.99" r="2.0"/><circle cx="77.95" cy="142.56" r="2.0"/><circle cx="85.95" cy="151.27" r="2.0"/><circle cx="93.95" cy="159.00" r="2.0"/><circle cx="101.95" cy="165.96" r="2.0"/><circle cx="109.95" cy="172.56" r="2.0"/><circle cx="117.89" cy="178.51" r="2.0"/><circle cx="125.82" cy="184.19" r="2.0"/><circle cx="133.75" cy="189.94" r="2.0"/><circle cx="141.68" cy="195.02" r="2.0"/><circle cx="149.62" cy="200.01" r="2.0"/><circle cx="157.55" cy="204.92" r="2.0"/><circle cx="165.48" cy="209.76" r="2.0"/><circle cx="173.41" cy="214.49" r="2.0"/><circle cx="181.40" cy="219.22" r="2.0"/><circle cx="189.40" cy="223.30" r="2.0"/><circle cx="197.40" cy="228.00" r="2.0"/><circle cx="205.40" cy="232.16" r="2.0"/><circle cx="213.40" cy="236.54" r="2.0"/><circle cx="221.40" cy="240.79" r="2.0"/><circle cx="229.40" cy="244.82" r="2.0"/><circle cx="237.40" cy="248.72" r="2.0"/><circle cx="245.40" cy="252.71" r="2.0"/><circle cx="253.40" cy="257.17" r="2.0"/><circle cx="261.40" cy="261.27" r="2.0"/><circle cx="269.40" cy="265.11" r="2.0"/><circle cx="277.40" cy="268.98" r="2.0"/><circle cx="285.40" cy="272.88" r="2.0"/><circle cx="293.40" cy="276.78" r="2.0"/><circle cx="301.40" cy="280.66" r="2.0"/><circle cx="309.40" cy="284.48" r="2.0"/><circle cx="317.40" cy="288.39" r="2.0"/><circle cx="325.40" cy="291.84" r="2.0"/></g></g>
<g font-family="Liberation Serif" fill="#000" style="text-rendering:geometricPrecision"><g transform="translate(57.20,78.80) scale(0.95,1)"><text x="0" y="0" font-size="15.7" font-weight="bold" text-anchor="end" >10</text></g><g transform="translate(57.20,115.80) scale(0.95,1)"><text x="0" y="0" font-size="15.7" font-weight="bold" text-anchor="end" >1</text></g><g transform="translate(56.70,152.80) scale(0.95,1)"><text x="0" y="0" font-size="15.7" font-weight="bold" text-anchor="end" >0.1</text></g><g transform="translate(56.70,189.80) scale(0.95,1)"><text x="0" y="0" font-size="15.7" font-weight="bold" text-anchor="end" >0.01</text></g><g transform="translate(56.70,226.80) scale(0.95,1)"><text x="0" y="0" font-size="15.7" font-weight="bold" text-anchor="end" >0.001</text></g><g transform="translate(44.20,263.80) scale(0.95,1)"><text x="0" y="0" font-size="15.7" font-weight="bold" text-anchor="end" >10</text></g><rect x="45.1" y="254.50" width="6.8" height="1.5" fill="#000"/><g transform="translate(57.30,257.80) scale(0.95,1)"><text x="0" y="0" font-size="11" font-weight="bold" text-anchor="end" >4</text></g><g transform="translate(44.20,300.80) scale(0.95,1)"><text x="0" y="0" font-size="15.7" font-weight="bold" text-anchor="end" >10</text></g><rect x="45.1" y="291.50" width="6.8" height="1.5" fill="#000"/><g transform="translate(57.30,294.80) scale(0.95,1)"><text x="0" y="0" font-size="11" font-weight="bold" text-anchor="end" >5</text></g><g transform="translate(100.90,312.90) scale(0.95,1)"><text x="0" y="0" font-size="15.7" font-weight="bold" text-anchor="middle" >1000</text></g><g transform="translate(180.90,312.90) scale(0.95,1)"><text x="0" y="0" font-size="15.7" font-weight="bold" text-anchor="middle" >2000</text></g><g transform="translate(260.90,312.90) scale(0.95,1)"><text x="0" y="0" font-size="15.7" font-weight="bold" text-anchor="middle" >3000</text></g><g transform="translate(340.90,312.90) scale(0.95,1)"><text x="0" y="0" font-size="15.7" font-weight="bold" text-anchor="middle" >4000</text></g><g transform="translate(420.90,312.90) scale(0.95,1)"><text x="0" y="0" font-size="15.7" font-weight="bold" text-anchor="middle" >5000</text></g><g transform="translate(208.00,335.80) scale(1.0,1)"><text x="0" y="0" font-size="15.5" font-weight="bold" text-anchor="start" font-style="italic">m</text></g><g transform="translate(220.30,340.90) scale(1.18,1)"><text x="0" y="0" font-size="11.7" font-weight="bold" text-anchor="start" font-style="italic">Z</text></g><path d="M230.1 332.8 L231.9 333.5 L229.3 336.9 L228.6 336.5 Z" fill="#000"/><g transform="translate(238.40,335.80) scale(0.93,1)"><text x="0" y="0" font-size="15.5" font-weight="bold" text-anchor="start" >[GeV]</text></g><g transform="translate(13.6,240) rotate(-90)"><g transform="translate(0.20,0) scale(1.18,1)"><text x="0" y="0" font-size="15" font-weight="bold" font-style="italic">&#963;</text></g><g transform="translate(9.00,0) scale(0.93,1)"><text x="0" y="0" font-size="15" font-weight="bold" >(</text></g><g transform="translate(13.70,0) scale(0.93,1)"><text x="0" y="0" font-size="15" font-weight="bold" >pp</text></g><path d="M30.80 -4.1 L40.70 -4.1" stroke="#000" stroke-width="1.3" fill="none"/><path d="M37.20 -7.60 Q38.50 -5.30 41.10 -4.1 Q38.50 -2.90 37.20 -0.60" stroke="#000" stroke-width="1.25" fill="none" stroke-linejoin="miter"/><g transform="translate(43.40,0) scale(0.9,1)"><text x="0" y="0" font-size="16.2" font-weight="bold" font-style="italic">Z</text></g><path d="M55.4 -11.0 L57.0 -10.2 L53.7 -6.5 L53.2 -6.9 Z" fill="#000"/><path d="M59.10 -4.1 L69.60 -4.1" stroke="#000" stroke-width="1.3" fill="none"/><path d="M66.10 -7.60 Q67.40 -5.30 70.00 -4.1 Q67.40 -2.90 66.10 -0.60" stroke="#000" stroke-width="1.25" fill="none" stroke-linejoin="miter"/><g transform="translate(71.50,0) scale(0.93,1)"><text x="0" y="0" font-size="15" font-weight="bold" >ll)</text></g><g transform="translate(87.40,0) scale(0.965,1)"><text x="0" y="0" font-size="15" font-weight="bold" >[pb]</text></g></g></g></svg>
<div class="dot" style="left:44.95px;top:11.45px;width:3.7px;height:3.7px;background:#ff8000"></div><div class="lg" style="left:61.00px;top:5.10px">2% width</div><div class="dot" style="left:135.15px;top:11.45px;width:3.7px;height:3.7px;background:#ff0000"></div><div class="lg" style="left:151.50px;top:5.10px">4% width</div><div class="dot" style="left:225.65px;top:11.45px;width:3.7px;height:3.7px;background:#00ff00"></div><div class="lg" style="left:242.00px;top:5.10px">8% width</div><div class="dot" style="left:316.25px;top:11.45px;width:3.7px;height:3.7px;background:#0000ff"></div><div class="lg" style="left:332.50px;top:5.10px">16% width</div><div class="dot" style="left:44.95px;top:41.45px;width:3.7px;height:3.7px;background:#ff00ff"></div><div class="lg" style="left:61.40px;top:35.10px">32% width</div><div class="dot" style="left:143.25px;top:41.45px;width:3.7px;height:3.7px;background:#000000"></div><div class="lg" style="left:159.90px;top:35.10px">Model x=1/2</div><div class="dot" style="left:257.35px;top:41.45px;width:3.7px;height:3.7px;background:#808080"></div><div class="lg" style="left:273.60px;top:35.10px">Model x=&#8722;1/2</div>
</div></body></html>
